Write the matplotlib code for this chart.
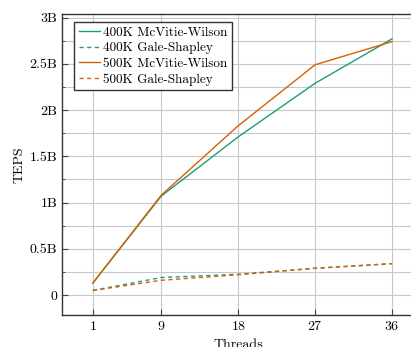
import numpy as np
import matplotlib
matplotlib.use("Agg")
import matplotlib.pyplot as plt
from matplotlib.ticker import MultipleLocator

plt.rcParams["font.family"] = "serif"
plt.rcParams["font.serif"] = ["cmr10", "DejaVu Serif"]
plt.rcParams["axes.formatter.use_mathtext"] = True

threads = [1, 9, 18, 27, 36]
mw_400k = [0.13, 1.07, 1.71, 2.29, 2.77]
gs_400k = [0.05, 0.19, 0.225, 0.29, 0.34]
mw_500k = [0.13, 1.08, 1.83, 2.49, 2.74]
gs_500k = [0.05, 0.16, 0.22, 0.29, 0.34]
ytick_vals = [0, 0.5, 1, 1.5, 2, 2.5, 3]
ytick_labels = ["0", "0.5B", "1B", "1.5B", "2B", "2.5B", "3B"]

green = "#1b9e77"
orange = "#d95f02"
fs = 10

fig = plt.figure(figsize=(4.11, 3.47), dpi=100)
ax = fig.add_axes([0.151, 0.092, 0.857, 0.868])

ax.plot(threads, mw_400k, color=green, lw=1.0, label="400K McVitie-Wilson")
ax.plot(threads, gs_400k, color=green, lw=1.0, ls=(0, (3, 2.5)), label="400K Gale-Shapley")
ax.plot(threads, mw_500k, color=orange, lw=1.0, label="500K McVitie-Wilson")
ax.plot(threads, gs_500k, color=orange, lw=1.0, ls=(0, (3, 2.5)), label="500K Gale-Shapley")

ax.set_xlim(-2.6, 38.6)
ax.set_ylim(-0.216, 3.04)
ax.set_xticks(threads)
ax.set_yticks(ytick_vals)
ax.set_yticklabels(ytick_labels)
ax.yaxis.set_minor_locator(MultipleLocator(0.25))

ax.grid(True, which="major", color="#c8c8c8", lw=0.8)
ax.grid(True, which="minor", axis="y", color="#c8c8c8", lw=0.8)
ax.set_axisbelow(True)
ax.tick_params(which="both", direction="in", labelsize=fs, color="#444444")
ax.tick_params(which="major", length=4)
ax.tick_params(which="minor", length=2.5)
for s in ax.spines.values():
    s.set_color("#333333")
    s.set_linewidth(1.0)

ax.set_xlabel("Threads", fontsize=fs)
ax.set_ylabel("TEPS", fontsize=fs, labelpad=3)

leg = ax.legend(loc="upper left", fontsize=9.5, fancybox=False, edgecolor="#333333",
                framealpha=1, handlelength=1.6, handletextpad=0.25,
                borderpad=0.35, labelspacing=0.25, borderaxespad=0,
                bbox_to_anchor=(0.034, 0.973))
leg.get_frame().set_linewidth(1.0)

fig.savefig("out.png", dpi=100)
